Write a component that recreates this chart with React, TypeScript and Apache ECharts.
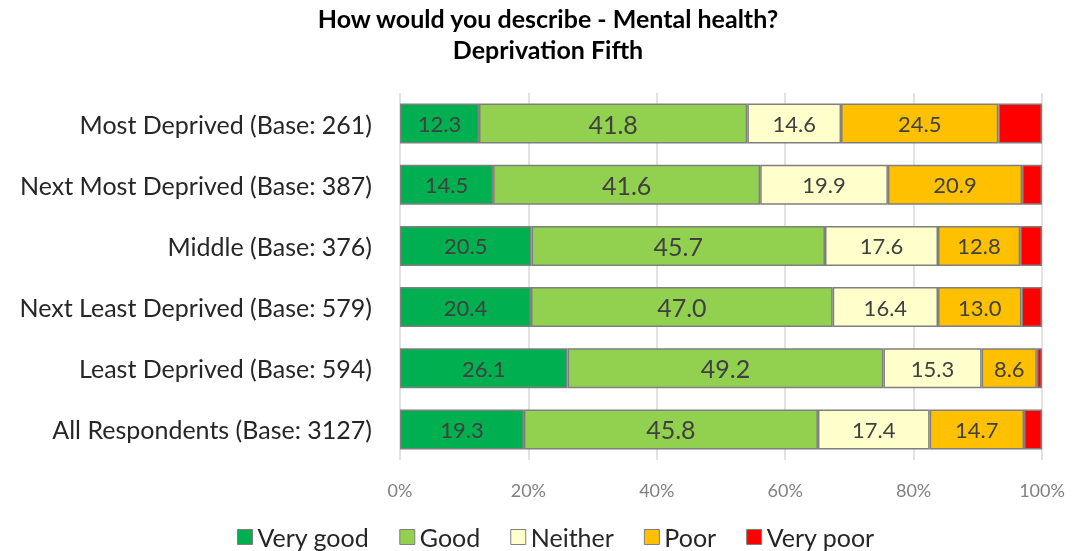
import React, { useEffect, useRef } from "react";
import * as echarts from "echarts";

const categories = [
  "Most Deprived (Base: 261)",
  "Next Most Deprived (Base: 387)",
  "Middle (Base: 376)",
  "Next Least Deprived (Base: 579)",
  "Least Deprived (Base: 594)",
  "All Respondents (Base: 3127)",
];
const seriesNames = ["Very good", "Good", "Neither", "Poor", "Very poor"];
const veryGood = [12.3, 14.5, 20.5, 20.4, 26.1, 19.3];
const good = [41.8, 41.6, 45.7, 47.0, 49.2, 45.8];
const neither = [14.6, 19.9, 17.6, 16.4, 15.3, 17.4];
const poor = [24.5, 20.9, 12.8, 13.0, 8.6, 14.7];
const veryPoor = [6.8, 3.1, 3.4, 3.2, 0.8, 2.8];
const colors = ["#00b050", "#92d050", "#ffffcc", "#ffc000", "#ff0000"];
const xTicks = [0, 20, 40, 60, 80, 100];

const FONT = "Lato, 'Open Sans', sans-serif";

export default function App() {
  const ref = useRef<HTMLDivElement>(null);
  useEffect(() => {
    if (!ref.current) return;
    const chart = echarts.init(ref.current, null, { renderer: "svg" });
    const data = [veryGood, good, neither, poor, veryPoor];
    chart.setOption({
      animation: false,
      textStyle: { fontFamily: FONT },
      title: {
        text: "How would you describe - Mental health?\nDeprivation Fifth",
        left: 548,
        textAlign: "center",
        top: 2,
        padding: 0,
        textStyle: { fontSize: 25, fontWeight: "bold", color: "#000", lineHeight: 31, fontFamily: FONT },
      },
      legend: {
        top: 524,
        left: 237,
        padding: 0,
        itemWidth: 15,
        itemHeight: 15,
        itemGap: 30,
        icon: "rect",
        textStyle: { fontSize: 25, color: "#262626", fontFamily: FONT, lineHeight: 26 },
        data: seriesNames.map((n) => ({ name: n, itemStyle: { borderColor: "#7f7f7f", borderWidth: 1 } })),
      },
      grid: { left: 400, right: 50, top: 93, bottom: 91 },
      xAxis: {
        type: "value",
        min: 0,
        max: 100,
        interval: 20,
        axisLabel: { formatter: (v: number) => (xTicks.includes(v) ? v + "%" : ""), color: "#808080", fontSize: 18, margin: 21 },
        splitLine: { show: true, lineStyle: { color: "#d9d9d9", width: 1.5 } },
        axisLine: { show: false },
        axisTick: { show: false },
      },
      yAxis: {
        type: "category",
        inverse: true,
        data: categories,
        axisLabel: { color: "#262626", fontSize: 25, margin: 28 },
        axisLine: { show: false },
        axisTick: { show: false },
      },
      series: seriesNames.map((name, i) => ({
        name,
        type: "bar",
        stack: "total",
        barWidth: 40,
        data: data[i],
        itemStyle: { color: colors[i], borderColor: "#7f7f7f", borderWidth: 1.5 },
        label: {
          show: i < 4,
          position: "inside",
          color: "#404040",
          fontSize: i === 1 ? 25 : 22,
          formatter: (p: any) => Number(p.value).toFixed(1),
        },
      })),
    });
    return () => chart.dispose();
  }, []);
  return <div ref={ref} style={{ position: "fixed", left: 0, top: 0, width: 1092, height: 551 }} />;
}
